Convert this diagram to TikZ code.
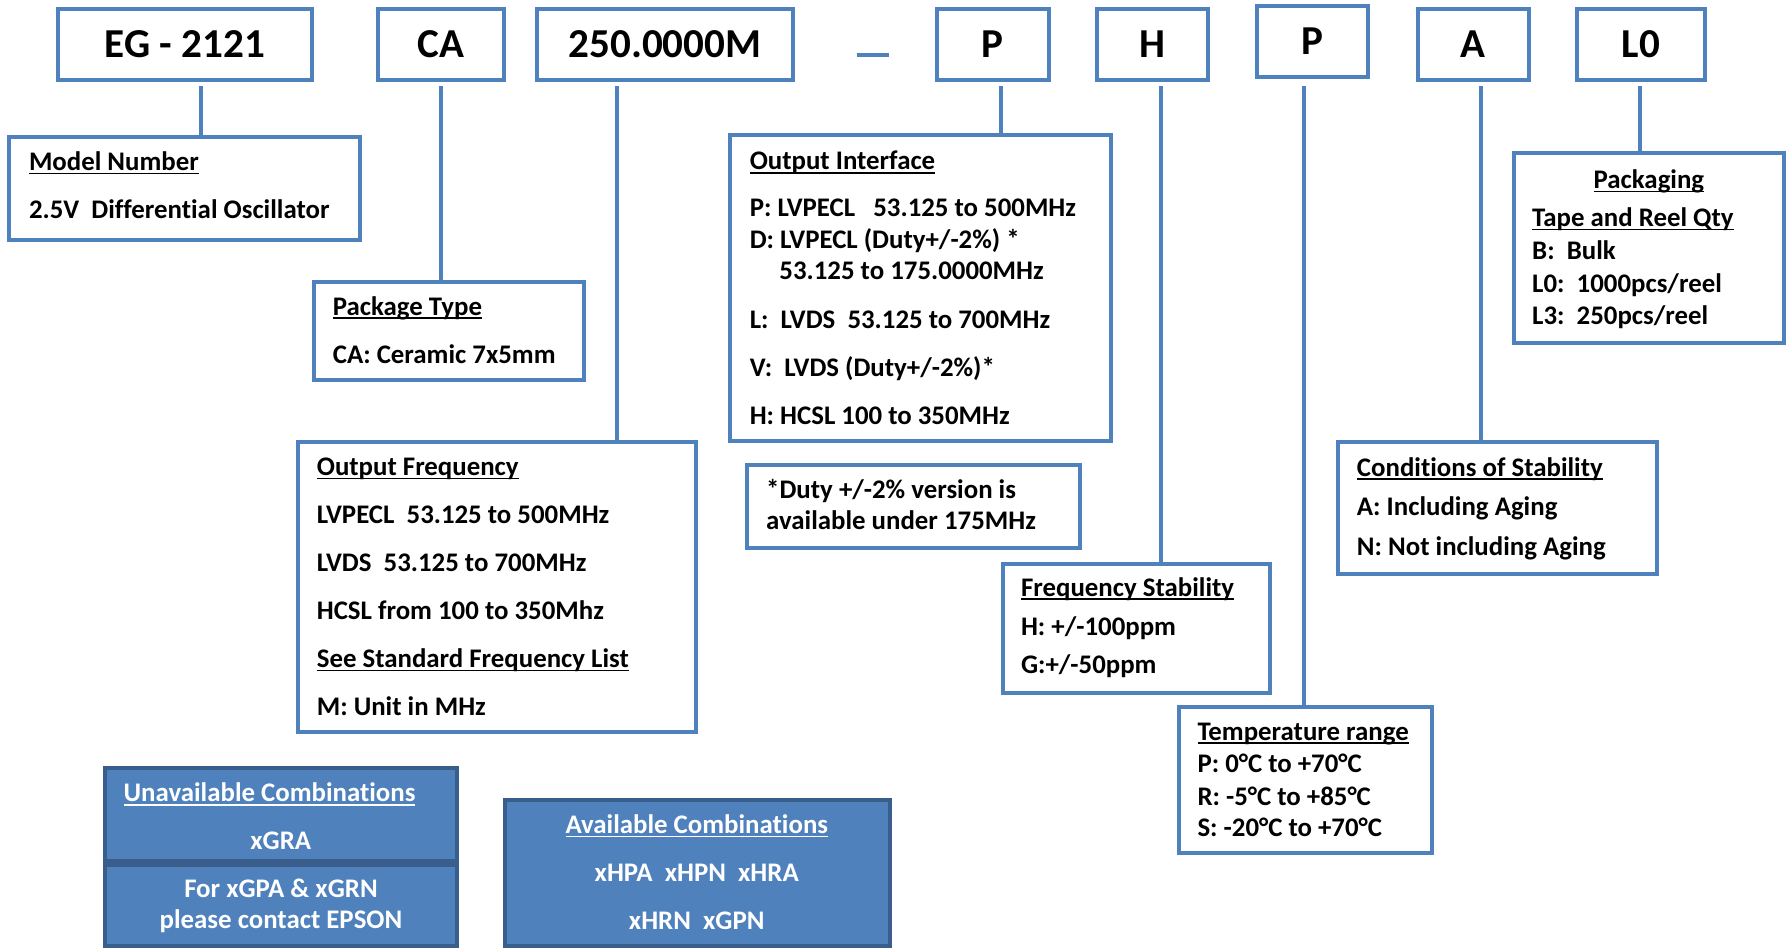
\documentclass[tikz,border=0pt]{standalone}
\usepackage{fontspec}
\setmainfont[Ligatures=NoCommon]{Carlito}
\usepackage{xcolor}
\usetikzlibrary{positioning}
\definecolor{boxblue}{HTML}{4F81BD}
\definecolor{edgeblue}{HTML}{3A5E8C}
\newcommand{\ulbox}[1]{\setbox0\hbox{#1}\rlap{\rule[-1.6pt]{\wd0}{0.7pt}}\box0}
\tikzset{
  codebox/.style={draw=boxblue, line width=1.75pt, inner sep=0pt, outer sep=0pt,
    minimum height=31pt, font=\fontsize{18}{22}\selectfont\bfseries},
  infobox/.style={draw=boxblue, line width=1.75pt, inner sep=0pt, outer sep=0pt},
  combobox/.style={draw=edgeblue, fill=boxblue, line width=1.75pt, inner sep=0pt, outer sep=0pt},
  wire/.style={draw=boxblue, line width=1.75pt},
  txt/.style={anchor=base west, inner sep=0pt, font=\fontsize{11.75}{14}\selectfont\bfseries},
  ctxt/.style={anchor=base, inner sep=0pt, text=white, font=\fontsize{11.75}{14}\selectfont\bfseries}
}

\begin{document}
\begin{tikzpicture}[x=0.5pt,y=-0.5pt]
  \useasboundingbox (0,0) rectangle (1568,832);

  % part number
  \node[codebox, minimum width=111.5pt] (eg) at (162,38.6) {EG - 2121};
  \node[codebox, minimum width=55.2pt] (ca) at (386,38.6) {CA};
  \node[codebox, minimum width=112pt] (freq) at (582.2,38.6) {250.0000M};
  \draw[wire] (750,48) -- (778,48);
  \node[codebox, minimum width=48.8pt] (iface) at (869.2,38.6) {P};
  \node[codebox, minimum width=48.4pt] (stab) at (1008.9,38.6) {H};
  \node[codebox, minimum width=48.5pt] (temp) at (1149.2,36.3) {P};
  \node[codebox, minimum width=48.4pt] (cond) at (1289.9,38.6) {A};
  \node[codebox, minimum width=55.8pt] (pack) at (1436.5,38.6) {L0};

  % description boxes
  \node[infobox, minimum width=153.5pt, minimum height=45pt] (model) at (161.3,164.8) {};
  \node[txt] (modelT) at (25,149.4) {\ulbox{Model Number}};
  \node[txt] (modelA) at (25,191) {2.5V~~Differential Oscillator};

  \node[infobox, minimum width=118.25pt, minimum height=42.75pt] (package) at (393,289.5) {};
  \node[txt] (packageT) at (291,276) {\ulbox{Package Type}};
  \node[txt] (packageA) at (291,318) {CA: Ceramic 7x5mm};

  \node[infobox, minimum width=174.25pt, minimum height=127.25pt] (outfreq) at (435,514) {};
  \node[txt] (outfreqT) at (277,416.5) {\ulbox{Output Frequency}};
  \node[txt] (outfreqA) at (277,458.5) {LVPECL~~53.125 to 500MHz};
  \node[txt] (outfreqB) at (277,500.5) {LVDS~~53.125 to 700MHz};
  \node[txt] (outfreqC) at (277,542.5) {HCSL from 100 to 350Mhz};
  \node[txt] (outfreqD) at (277,584.5) {\ulbox{See Standard Frequency List}};
  \node[txt] (outfreqE) at (277,626.5) {M: Unit in MHz};

  \node[infobox, minimum width=166.75pt, minimum height=133.9pt] (outif) at (806.1,252.35) {};
  \node[txt] (outifT) at (656,148.8) {\ulbox{Output Interface}};
  \node[txt] (outifP) at (656,189.7) {P: LVPECL~~~53.125 to 500MHz};
  \node[txt] (outifD) at (656,217.4) {D: LVPECL (Duty+/-2\%) *};
  \node[txt] (outifD2) at (682,245) {53.125 to 175.0000MHz};
  \node[txt] (outifL) at (656,287.4) {L:~~LVDS~~53.125 to 700MHz};
  \node[txt] (outifV) at (656,329.8) {V:~~LVDS (Duty+/-2\%)*};
  \node[txt] (outifH) at (656,371.2) {H: HCSL 100 to 350MHz};

  \node[infobox, minimum width=145.75pt, minimum height=36.2pt] (duty) at (799.5,443.55) {};
  \node[txt] (dutyA) at (670.4,436.3) {*Duty +/-2\% version is};
  \node[txt] (dutyB) at (670.4,463.4) {available under 175MHz};

  \node[infobox, minimum width=117.25pt, minimum height=56.65pt] (fstab) at (995,550.1) {};
  \node[txt] (fstabT) at (893.5,522) {\ulbox{Frequency Stability}};
  \node[txt] (fstabH) at (893.5,556) {H: +/-100ppm};
  \node[txt] (fstabG) at (893.5,590) {G:+/-50ppm};

  \node[infobox, minimum width=111.05pt, minimum height=64.05pt] (trange) at (1142.8,682.8) {};
  \node[txt] (trangeT) at (1048,648) {\ulbox{Temperature range}};
  \node[txt] (trangeP) at (1048,676) {P: 0°C to +70°C};
  \node[txt] (trangeR) at (1048,705) {R: -5°C to +85°C};
  \node[txt] (trangeS) at (1048,732.5) {S: -20°C to +70°C};

  \node[infobox, minimum width=139.25pt, minimum height=57.75pt] (conds) at (1311,444.5) {};
  \node[txt] (condsT) at (1187.6,417) {\ulbox{Conditions of Stability}};
  \node[txt] (condsA) at (1187.6,451) {A: Including Aging};
  \node[txt] (condsN) at (1187.6,486) {N: Not including Aging};

  \node[infobox, minimum width=118.1pt, minimum height=83.25pt] (packg) at (1443.85,217) {};
  \node[txt, anchor=base] (packgT) at (1443.6,165) {\ulbox{Packaging}};
  \node[txt] (packgQ) at (1341,198.5) {\ulbox{Tape and Reel Qty}};
  \node[txt] (packgB) at (1341,227.6) {B:~~Bulk};
  \node[txt] (packgL0) at (1341,256) {L0:~~1000pcs/reel};
  \node[txt] (packgL3) at (1341,284.5) {L3:~~250pcs/reel};

  % combinations
  \node[combobox, minimum width=154pt, minimum height=40.8pt] (unavail) at (246.25,713.15) {};
  \node[combobox, minimum width=154pt, minimum height=35.4pt] (contact) at (246.25,792.85) {};
  \node[ctxt] (unavailT) at (236,702) {\ulbox{Unavailable Combinations}};
  \node[ctxt] (unavailA) at (245.8,744) {xGRA};
  \node[ctxt] (contactA) at (246,786) {For xGPA \& xGRN};
  \node[ctxt] (contactB) at (246,812.5) {please contact EPSON};

  \node[combobox, minimum width=168.1pt, minimum height=63.85pt] (avail) at (610.65,764.4) {};
  \node[ctxt] (availT) at (610,730) {\ulbox{Available Combinations}};
  \node[ctxt] (availA) at (610,772) {xHPA~~xHPN~~xHRA};
  \node[ctxt] (availB) at (610,814) {xHRN~~xGPN};

  % connectors
  \coordinate (egTap) at (176,75.3);
  \coordinate (caTap) at (386,75.3);
  \coordinate (freqTap) at (540,75.3);
  \coordinate (ifaceTap) at (876,75.3);
  \coordinate (stabTap) at (1016,75.3);
  \coordinate (tempTap) at (1142,75.3);
  \coordinate (condTap) at (1296.5,75.3);
  \coordinate (packTap) at (1436,75.3);
  \draw[wire] (egTap) -- (egTap |- model.north);
  \draw[wire] (caTap) -- (caTap |- package.north);
  \draw[wire] (freqTap) -- (freqTap |- outfreq.north);
  \draw[wire] (ifaceTap) -- (ifaceTap |- outif.north);
  \draw[wire] (stabTap) -- (stabTap |- fstab.north);
  \draw[wire] (tempTap) -- (tempTap |- trange.north);
  \draw[wire] (condTap) -- (condTap |- conds.north);
  \draw[wire] (packTap) -- (packTap |- packg.north);
\end{tikzpicture}
\end{document}
